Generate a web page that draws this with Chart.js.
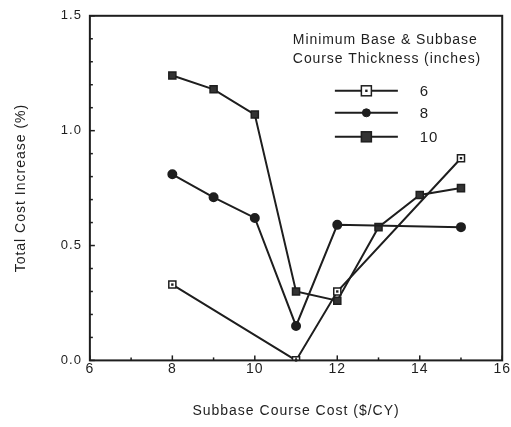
<!DOCTYPE html>
<html>
<head>
<meta charset="utf-8">
<script src="https://cdn.jsdelivr.net/npm/chart.js@4.4.0/dist/chart.umd.min.js"></script>
<style>
  html, body { margin: 0; padding: 0; background: #fff; }
  #wrap { width: 511px; height: 427px; }
</style>
</head>
<body>
<div id="wrap"><canvas id="costChart" width="511" height="427"></canvas></div>
<script>
// subbase course cost ($/CY) and total cost increase (%) per min. thickness
const thickness = ['6', '8', '10']
const cost6 = [8, 11, 12, 15]
const incr6 = [0.33, 0.0, 0.30, 0.88]
const cost8 = [8, 9, 10, 11, 12, 15]
const incr8 = [0.81, 0.71, 0.62, 0.15, 0.59, 0.58]
const cost10 = [8, 9, 10, 11, 12, 13, 14, 15]
const incr10 = [1.24, 1.18, 1.07, 0.30, 0.26, 0.58, 0.72, 0.75]
const yTicks = [0, 0.5, 1.0, 1.5]

const ink = '#1e1e1e'
const font = "'Liberation Sans', Arial, sans-serif"

const pts = (xs, ys) => xs.map((x, i) => ({ x: x, y: ys[i] }))

const datasets = [{
    label: thickness[0],
    data: pts(cost6, incr6),
    borderColor: ink,
    borderWidth: 2,
    pointStyle: 'rect',
    pointRadius: 5,
    pointBackgroundColor: '#fff',
    pointBorderColor: ink,
    pointBorderWidth: 1.5,
    dotInside: true
}, {
    label: thickness[1],
    data: pts(cost8, incr8),
    borderColor: ink,
    borderWidth: 2,
    pointStyle: 'circle',
    pointRadius: 4,
    pointBackgroundColor: ink,
    pointBorderColor: ink
}, {
    label: thickness[2],
    data: pts(cost10, incr10),
    borderColor: ink,
    borderWidth: 2,
    pointStyle: 'rect',
    pointRadius: 5,
    pointBackgroundColor: '#333',
    pointBorderColor: ink,
    pointBorderWidth: 1.5
}]

// old typewriter-ish spacing on every label
const spacing = {
    id: 'spacing',
    beforeUpdate(chart) { chart.ctx.letterSpacing = '1px' }
}

// box round the plot, inward ticks and little dots in the open squares
const frame = {
    id: 'frame',
    afterDatasetsDraw(chart) {
        const c = chart.ctx, a = chart.chartArea
        const xs = chart.scales.x, ys = chart.scales.y
        c.save()
        c.strokeStyle = ink
        c.lineWidth = 2
        c.strokeRect(a.left, a.top, a.right - a.left, a.bottom - a.top)
        c.lineWidth = 1.5
        for (let v = xs.min; v <= xs.max; v++) {
            const px = xs.getPixelForValue(v)
            const len = v % 2 === 0 ? 5 : 3
            c.beginPath(); c.moveTo(px, a.bottom); c.lineTo(px, a.bottom - len); c.stroke()
        }
        for (let k = 0; k <= 15; k++) {
            const py = ys.getPixelForValue(k / 10)
            const len = k % 5 === 0 ? 5 : 3
            c.beginPath(); c.moveTo(a.left, py); c.lineTo(a.left + len, py); c.stroke()
        }
        // centre dot for the 6 in. markers
        chart.getDatasetMeta(0).data.forEach(p => {
            c.fillStyle = ink
            c.fillRect(p.x - 1.2, p.y - 1.2, 2.4, 2.4)
        })
        c.restore()
    }
}

// legend block in the upper right of the plot
const keyBox = {
    id: 'keyBox',
    afterDraw(chart) {
        const c = chart.ctx, a = chart.chartArea
        const x0 = a.left + 203
        c.save()
        c.fillStyle = ink
        c.font = '14px ' + font
        c.letterSpacing = '0.9px'
        c.textBaseline = 'middle'
        c.fillText('Minimum Base & Subbase', x0, a.top + 24)
        c.fillText('Course Thickness (inches)', x0, a.top + 43)
        const rows = [a.top + 75, a.top + 97, a.top + 121]
        chart.data.datasets.forEach((ds, i) => {
            const y = rows[i], l = a.left + 245, r = a.left + 308, m = (l + r) / 2
            c.strokeStyle = ink
            c.lineWidth = 2
            c.beginPath(); c.moveTo(l, y); c.lineTo(r, y); c.stroke()
            c.lineWidth = ds.pointBorderWidth || 1
            c.fillStyle = ds.pointBackgroundColor
            if (ds.pointStyle === 'circle') {
                c.beginPath(); c.arc(m, y, 4, 0, Math.PI * 2); c.fill(); c.stroke()
            } else {
                c.fillRect(m - 5, y - 5, 10, 10); c.strokeRect(m - 5, y - 5, 10, 10)
                if (ds.dotInside) { c.fillStyle = ink; c.fillRect(m - 1.2, y - 1.2, 2.4, 2.4) }
            }
            c.fillStyle = ink
            c.font = '15px ' + font
            c.fillText(ds.label, a.left + 330, y + 1)
        })
        c.restore()
    }
}

new Chart(document.getElementById('costChart').getContext('2d'), {
    type: 'line',
    data: { datasets },
    options: {
        responsive: false,
        animation: false,
        layout: { padding: { left: 9, right: 2, top: 5, bottom: 3 } },
        plugins: { legend: { display: false }, tooltip: { enabled: false } },
        scales: {
            x: {
                type: 'linear',
                min: 6, max: 16,
                ticks: { stepSize: 2, color: ink, font: { family: font, size: 14 }, padding: 0, maxRotation: 0 },
                grid: { display: false, drawTicks: false },
                border: { display: false },
                title: { display: true, text: 'Subbase Course Cost ($/CY)', color: ink,
                         font: { family: font, size: 14 }, padding: { top: 26 } }
            },
            y: {
                min: 0, max: 1.5,
                afterBuildTicks: s => { s.ticks = yTicks.map(v => ({ value: v })) },
                ticks: { color: ink, font: { family: font, size: 13 }, padding: 8,
                         callback: v => v.toFixed(1) },
                grid: { display: false, drawTicks: false },
                border: { display: false },
                title: { display: true, text: 'Total Cost Increase (%)', color: ink,
                         font: { family: font, size: 14 }, padding: { bottom: 23 } }
            }
        }
    },
    plugins: [spacing, frame, keyBox]
})
</script>
</body>
</html>
